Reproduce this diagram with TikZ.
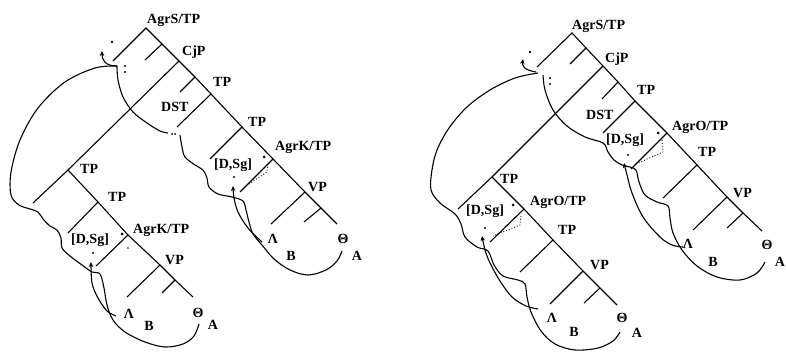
\documentclass[tikz,border=0pt]{standalone}
\usepackage{fontspec}
\setmainfont{Liberation Serif}
\usetikzlibrary{arrows.meta}
\begin{document}
\begin{tikzpicture}[x=1pt,y=-1pt,
  br/.style={line width=1.1pt},
  cv/.style={line width=1.1pt},
  lab/.style={anchor=base west, inner sep=0pt, font=\fontsize{14}{16}\selectfont\bfseries},
  sym/.style={inner sep=0pt, font=\fontsize{14}{16}\selectfont\bfseries},
  arr/.style={cv,-{Stealth[length=5pt,width=4.5pt]}},
  dotl/.style={line width=0.9pt, dotted},
  ]
\useasboundingbox (0,0) rectangle (786,352);
% ---------------- LEFT TREE ----------------
\coordinate (a0) at (146,28);  \coordinate (a1) at (162,44);
\coordinate (a2) at (179,61);  \coordinate (a3) at (195,77);
\coordinate (a4) at (211,94);  \coordinate (a5) at (242,127);
\coordinate (a6) at (273,159); \coordinate (a7) at (305,192);
\coordinate (a8) at (321,208); \coordinate (a9) at (337,224);
\coordinate (a0l) at (113,61); \coordinate (a1l) at (145,60);
\coordinate (a3l) at (180,92); \coordinate (a4l) at (177,127);
\coordinate (a5l) at (210,159);\coordinate (a6l) at (240,192);
\coordinate (a7l) at (271,224);\coordinate (a8l) at (304,222);
\coordinate (b0) at (68,170);  \coordinate (b0l) at (33,203);
\coordinate (b1) at (98,202);  \coordinate (b1l) at (68,233);
\coordinate (b2) at (128,235); \coordinate (b2l) at (96,266);
\coordinate (b3) at (160,265); \coordinate (b3l) at (127,297);
\coordinate (b4) at (175,280); \coordinate (b4l) at (162,293);
\coordinate (b5) at (193,297);
\draw[br] (a0l) -- (a0) -- (a1) -- (a2) -- (a3) -- (a4) -- (a5) -- (a6) -- (a7) -- (a8) -- (a9);
\draw[br] (a1) -- (a1l); \draw[br] (a3) -- (a3l); \draw[br] (a4) -- (a4l);
\draw[br] (a5) -- (a5l); \draw[br] (a6) -- (a6l); \draw[br] (a7) -- (a7l);
\draw[br] (a8) -- (a8l);
\draw[br] (a2) -- (b0) -- (b0l);
\draw[br] (b0) -- (b1) -- (b2) -- (b3) -- (b4) -- (b5);
\draw[br] (b1) -- (b1l); \draw[br] (b2) -- (b2l); \draw[br] (b3) -- (b3l); \draw[br] (b4) -- (b4l);
\node[lab] (l1) at (147,24) {AgrS/TP};
\node[lab] (l2) at (182,56) {CjP};
\node[lab] (l3) at (213,87) {TP};
\node[lab] (l4) at (161,112) {DST};
\node[lab] (l5) at (248,127) {TP};
\node[lab] (l6) at (275,151) {AgrK/TP};
\node[lab] (l7) at (214,169) {[D,Sg]};
\node[lab] (l8) at (308,192) {VP};
\node[sym] (l9) at (273,239) {Λ};
\node[sym] (l10) at (291,256) {B};
\node[sym] (l11) at (343,239) {Θ};
\node[sym] (l12) at (357,256) {A};
\node[lab] (m1) at (80,174) {TP};
\node[lab] (m2) at (108,202) {TP};
\node[lab] (m3) at (133,234) {AgrK/TP};
\node[lab] (m4) at (71,244) {[D,Sg]};
\node[lab] (m5) at (165,265) {VP};
\node[sym] (m6) at (129,314) {Λ};
\node[sym] (m7) at (149,326) {B};
\node[sym] (m8) at (198,313) {Θ};
\node[sym] (m9) at (213,325) {A};
% curves left
\draw[arr] (117,66) .. controls (105,66) and (102,60) .. (102,51);
\fill (112,42) circle (1.3pt);
\fill (125,66) circle (1.2pt); \fill (125,72) circle (1.2pt);
\draw[cv] plot[smooth, tension=0.55] coordinates {(117,66) (95,68) (65,82) (38,108) (20,140) (11,172) (11,195) (19,205) (30,209) (38,212) (43,219) (50,226) (57,230) (61,238) (62,248) (70,256) (82,265) (92,272) (100,274) (104,288) (107,305) (113,320) (125,332) (145,342) (165,347) (183,344) (194,336) (199,324)};
\draw[cv] plot[smooth, tension=0.55] coordinates {(117,66) (118,80) (123,97) (133,112) (147,123) (160,131) (168,133)};
\fill (172,134) circle (1pt); \fill (175,134) circle (1pt);
\draw[cv] plot[smooth, tension=0.55] coordinates {(180,135) (182,147) (185,157) (195,165) (203,170) (207,178) (209,187) (218,194) (232,197) (243,201) (246,210) (249,222) (253,234) (262,245) (274,259) (290,270) (308,275) (326,270) (337,261) (342,251)};
\draw[arr] plot[smooth, tension=0.55] coordinates {(262,242) (248,228) (238,212) (234,198) (233,186)};
\draw[arr] plot[smooth, tension=0.55] coordinates {(116,316) (107,311) (98,298) (92,283) (91,262)};
\fill (264,157) circle (1.5pt);
\fill (234,177) circle (1.2pt);
\draw[dotl] (268,164) -- (267,172) -- (246,186);
\fill (122,234) circle (1.5pt);
\fill (128,248) circle (0.9pt);
\fill (93,253) circle (1.2pt);
% ---------------- RIGHT TREE ----------------
\coordinate (c0) at (572,33);  \coordinate (c1) at (586,48);
\coordinate (c2) at (603,66);  \coordinate (c3) at (618,82);
\coordinate (c4) at (635,101); \coordinate (c5) at (667,133);
\coordinate (c6) at (697,165); \coordinate (c7) at (727,197);
\coordinate (c8) at (743,213); \coordinate (c9) at (762,231);
\coordinate (c0l) at (537,67); \coordinate (c1l) at (570,64);
\coordinate (c3l) at (602,99); \coordinate (c4l) at (603,133);
\coordinate (c5l) at (631,169);\coordinate (c6l) at (663,198);
\coordinate (c7l) at (693,230);\coordinate (c8l) at (727,228);
\coordinate (d0) at (492,177); \coordinate (d0l) at (458,209);
\coordinate (d1) at (524,209); \coordinate (d1l) at (490,242);
\coordinate (d2) at (553,240); \coordinate (d2l) at (520,272);
\coordinate (d3) at (583,271); \coordinate (d3l) at (550,304);
\coordinate (d4) at (600,288); \coordinate (d4l) at (584,303);
\coordinate (d5) at (617,305);
\draw[br] (c0l) -- (c0) -- (c1) -- (c2) -- (c3) -- (c4) -- (c5) -- (c6) -- (c7) -- (c8) -- (c9);
\draw[br] (c1) -- (c1l); \draw[br] (c3) -- (c3l); \draw[br] (c4) -- (c4l);
\draw[br] (c5) -- (c5l); \draw[br] (c6) -- (c6l); \draw[br] (c7) -- (c7l);
\draw[br] (c8) -- (c8l);
\draw[br] (c2) -- (d0) -- (d0l);
\draw[br] (d0) -- (d1) -- (d2) -- (d3) -- (d4) -- (d5);
\draw[br] (d1) -- (d1l); \draw[br] (d2) -- (d2l); \draw[br] (d3) -- (d3l); \draw[br] (d4) -- (d4l);
\node[lab] (r1) at (572,30) {AgrS/TP};
\node[lab] (r2) at (605,63) {CjP};
\node[lab] (r3) at (637,95) {TP};
\node[lab] (r4) at (586,120) {DST};
\node[lab] (r5) at (672,131) {AgrO/TP};
\node[lab] (r6) at (606,144) {[D,Sg]};
\node[lab] (r7) at (698,157) {TP};
\node[lab] (r8) at (733,198) {VP};
\node[sym] (r9) at (688,244) {Λ};
\node[sym] (r10) at (713,262) {B};
\node[sym] (r11) at (767,245) {Θ};
\node[sym] (r12) at (780,262) {A};
\node[lab] (s1) at (500,184) {TP};
\node[lab] (s2) at (530,206) {AgrO/TP};
\node[lab] (s3) at (466,215) {[D,Sg]};
\node[lab] (s4) at (558,235) {TP};
\node[lab] (s5) at (590,270) {VP};
\node[sym] (s6) at (552,318) {Λ};
\node[sym] (s7) at (574,332) {B};
\node[sym] (s8) at (622,318) {Θ};
\node[sym] (s9) at (637,333) {A};
% curves right
\draw[arr] (536,72) .. controls (524,70) and (522,66) .. (523,59);
\fill (530,52) circle (1.3pt);
\fill (550,78) circle (1.2pt); \fill (550,84) circle (1.2pt);
\draw[cv] plot[smooth, tension=0.55] coordinates {(538,73) (515,78) (490,90) (467,107) (449,128) (437,150) (432,170) (431,190) (440,203) (455,214) (461,224) (465,237) (477,247) (488,251) (494,265) (503,276) (518,280) (525,284) (527,297) (531,312) (541,331) (555,344) (575,350) (598,348) (613,341) (620,332)};
\draw[arr] plot[smooth, tension=0.55] coordinates {(538,309) (526,306) (512,297) (500,281) (490,263) (485,250) (482,236)};
\draw[cv] plot[smooth, tension=0.55] coordinates {(543,75) (545,90) (553,110) (567,126) (585,137) (603,143) (608,152) (614,160) (622,165) (630,167) (636,170) (639,182) (645,195) (657,202) (668,206) (670,218) (673,233) (682,250) (697,266) (717,277) (740,280) (757,273) (765,262)};
\draw[arr] plot[smooth, tension=0.55] coordinates {(683,247) (672,245) (660,237) (643,217) (632,193) (627,175) (624,163)};
\fill (658,133) circle (1.5pt);
\fill (628,155) circle (1.2pt);
\draw[dotl] (662,140) -- (663,152) -- (636,164);
\fill (513,205) circle (1.5pt);
\fill (485,228) circle (1.2pt);
\draw[dotl] (521,216) -- (520,225) -- (493,236);
\end{tikzpicture}
\end{document}
